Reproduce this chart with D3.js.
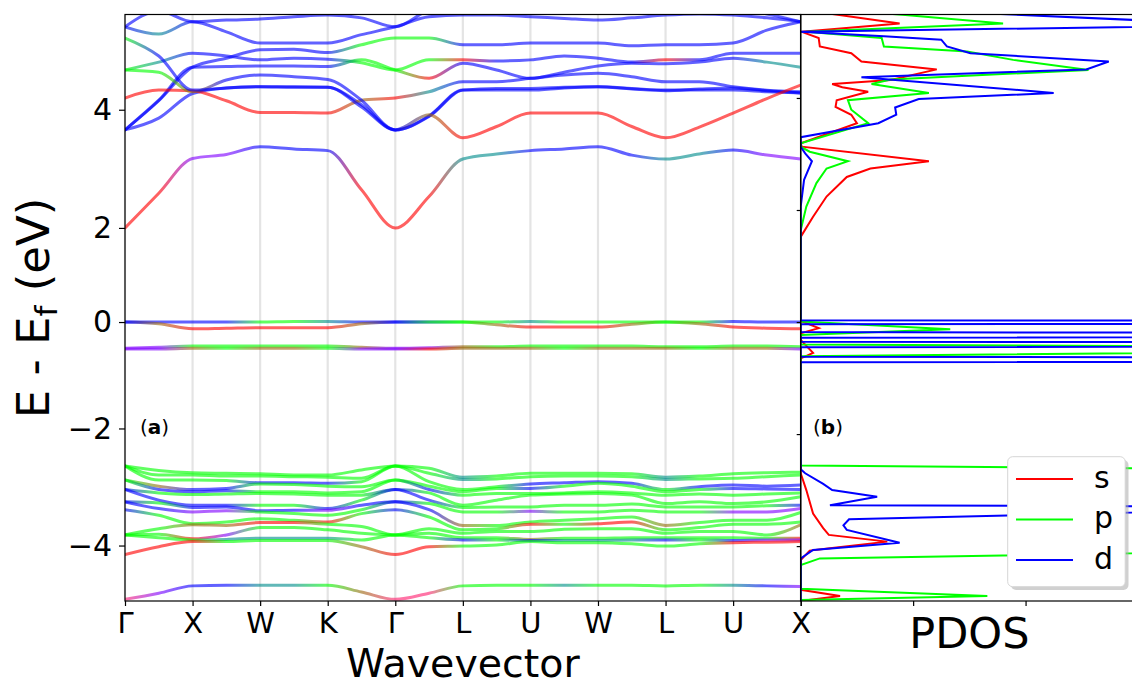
<!DOCTYPE html>
<html><head><meta charset="utf-8">
<script src="https://cdn.jsdelivr.net/npm/d3@7"></script>
<style>body{margin:0;background:#fff;overflow:hidden}svg{display:block;font-family:"DejaVu Sans",sans-serif}</style>
</head><body><svg id="chart" width="1132" height="686"></svg>
<script>
// ---------- DATA ----------
const kLabels = ["Γ","X","W","K","Γ","L","U","W","L","U","X"];
const kTicks = [0,1,2,3,4,5,6,7,8,9,10];
const kGrid = [0,0.5,1,1.5,2,2.5,3,3.5,4,4.5,5,5.5,6,6.5,7,7.5,8,8.5,9,9.5,10];
const eRange = [-4.98, 5.49];
const bandTickLabels = [-4,-2,0,2,4];
const bandTickAt = [-3.99,-1.90,0.0,1.68,3.79];
const pdosTicksE = [-4,-2,0,2,4];
const pdosTicksX = [0,1,2,3];
const pdosDomain = [0,3];

// conduction bands (eV at kGrid) and orbital colour codes
const condBands = [
  [1.68,2.30,2.92,2.99,3.13,3.09,3.06,2.36,1.68,2.24,2.91,3.00,3.06,3.09,3.13,2.98,2.91,3.00,3.07,2.98,2.91],
  [3.43,3.64,4.08,4.18,4.20,4.20,4.19,3.88,3.43,3.67,4.14,4.17,4.17,4.19,4.20,4.17,4.14,4.14,4.14,4.11,4.09],
  [3.43,3.96,4.55,4.56,4.57,4.57,4.56,4.68,4.50,4.35,4.62,4.50,4.35,4.46,4.57,4.62,4.61,4.64,4.71,4.64,4.55],
  [3.43,3.95,4.55,4.71,4.86,4.87,4.81,4.95,5.07,5.07,4.95,4.95,4.98,4.98,4.98,4.93,4.95,4.95,4.98,5.21,5.36],
  [4.00,4.14,4.13,3.95,3.74,3.74,3.73,3.96,4.00,4.11,4.29,4.29,4.35,4.41,4.44,4.38,4.29,4.29,4.20,4.14,4.11],
  [4.50,4.46,4.11,4.32,4.41,4.38,4.33,3.96,3.43,3.68,4.14,4.14,4.14,4.18,4.20,4.16,4.13,4.16,4.18,4.13,4.09],
  [4.50,4.64,4.80,4.75,4.68,4.71,4.69,4.63,4.50,4.68,4.68,4.66,4.68,4.75,4.71,4.64,4.68,4.68,4.80,4.80,4.80],
  [5.07,4.75,4.14,4.18,4.20,4.19,4.19,3.84,3.43,3.70,3.29,3.49,3.73,3.73,3.73,3.49,3.29,3.48,3.73,3.99,4.23],
  [5.27,5.14,5.36,5.18,4.98,4.98,4.98,5.13,5.27,5.45,5.48,5.48,5.45,5.42,5.39,5.43,5.48,5.50,5.48,5.43,5.36],
  [5.27,5.55,5.36,5.39,5.41,5.45,5.48,5.43,5.27,5.57,5.66,5.70,5.70,5.70,5.66,5.66,5.66,5.66,5.61,5.50,5.36]
];
const condColors = [
  "rrmmbbbrrrccbbbbccbmm",
  "bbbbbbbbbbbbbbbbbbbbb",
  "bbbbbbbggrbbbbbbbbbcc",
  "bbbbbbbgggbbbbbbbbbbb",
  "rrrrrrrorcbbbbbbbbbbb",
  "ggobbbbbbbbbbbbbbbbbb",
  "gcbbbbbgggrbbbbbrbbbb",
  "gbbbbbbbborrrrrrrrrrr",
  "bcbbbbbbbbbbbbbbbbbbb",
  "bbbbbbbbbbbbbbbbbbbbb"
];

// flat bands near the Fermi level
const flatBands = [
  [0,0,0,0,0,0.01,0.01,0,0,0,0,0,0.01,0,0,0,0,0,0.01,0,0],
  [0,-0.03,-0.12,-0.11,-0.10,-0.10,-0.10,-0.03,0,0,0,-0.05,-0.09,-0.09,-0.09,-0.04,0,-0.03,-0.09,-0.11,-0.12],
  [-0.47,-0.45,-0.43,-0.43,-0.43,-0.43,-0.43,-0.45,-0.47,-0.46,-0.44,-0.44,-0.43,-0.43,-0.43,-0.43,-0.44,-0.44,-0.43,-0.43,-0.44],
  [-0.48,-0.48,-0.47,-0.47,-0.47,-0.47,-0.47,-0.48,-0.48,-0.48,-0.47,-0.47,-0.47,-0.47,-0.47,-0.47,-0.47,-0.47,-0.47,-0.47,-0.48]
];
const flatColors = [
  "bbbbggcbbbggcgggggbbb",
  "borrrrrobggorrrogorrr",
  "mmgggggommogggggggggg",
  "mmogoogmmrooogooogoom"
];

// valence bands
const valBands = [
  [-2.57,-2.65,-2.69,-2.70,-2.71,-2.73,-2.73,-2.64,-2.57,-2.61,-2.77,-2.75,-2.70,-2.70,-2.70,-2.71,-2.77,-2.75,-2.71,-2.69,-2.68],
  [-2.57,-2.73,-2.73,-2.75,-2.75,-2.76,-2.77,-2.79,-2.57,-2.70,-2.81,-2.80,-2.76,-2.75,-2.75,-2.76,-2.81,-2.80,-2.79,-2.76,-2.73],
  [-2.57,-2.82,-2.82,-2.83,-2.87,-2.87,-2.88,-2.85,-2.57,-2.85,-2.99,-2.94,-2.89,-2.87,-2.85,-2.88,-2.99,-2.94,-2.91,-2.93,-2.91],
  [-2.82,-2.93,-2.99,-2.97,-2.89,-2.90,-2.93,-2.94,-2.82,-2.93,-3.03,-2.97,-2.97,-2.93,-2.88,-2.93,-3.03,-2.99,-2.97,-2.98,-2.99],
  [-2.82,-2.99,-3.03,-3.01,-3.03,-3.03,-3.05,-3.03,-2.82,-2.99,-3.09,-3.06,-3.06,-3.05,-3.03,-3.05,-3.09,-3.07,-3.09,-3.07,-3.05],
  [-2.99,-3.05,-3.08,-3.07,-3.06,-3.07,-3.09,-3.09,-2.99,-3.05,-3.27,-3.18,-3.09,-3.07,-3.06,-3.09,-3.24,-3.21,-3.24,-3.21,-3.12],
  [-2.99,-3.18,-3.27,-3.27,-3.27,-3.27,-3.33,-3.18,-2.99,-3.18,-3.31,-3.30,-3.30,-3.27,-3.27,-3.25,-3.30,-3.30,-3.30,-3.28,-3.27],
  [-3.21,-3.23,-3.31,-3.30,-3.37,-3.36,-3.36,-3.27,-3.21,-3.24,-3.39,-3.39,-3.38,-3.39,-3.39,-3.36,-3.39,-3.39,-3.39,-3.39,-3.33],
  [-3.21,-3.33,-3.39,-3.37,-3.39,-3.42,-3.45,-3.35,-3.21,-3.35,-3.63,-3.63,-3.57,-3.54,-3.51,-3.48,-3.63,-3.58,-3.54,-3.54,-3.40],
  [-3.35,-3.45,-3.60,-3.57,-3.51,-3.54,-3.57,-3.42,-3.35,-3.48,-3.71,-3.69,-3.61,-3.61,-3.60,-3.57,-3.71,-3.67,-3.61,-3.61,-3.57],
  [-3.80,-3.69,-3.62,-3.63,-3.58,-3.58,-3.61,-3.65,-3.80,-3.69,-3.77,-3.74,-3.74,-3.70,-3.69,-3.69,-3.77,-3.74,-3.74,-3.80,-3.62],
  [-3.80,-3.79,-3.87,-3.80,-3.67,-3.67,-3.71,-3.77,-3.80,-3.77,-3.85,-3.85,-3.88,-3.86,-3.86,-3.85,-3.85,-3.85,-3.85,-3.86,-3.86],
  [-3.80,-3.85,-3.89,-3.88,-3.86,-3.86,-3.86,-3.89,-3.80,-3.85,-3.89,-3.89,-3.90,-3.90,-3.90,-3.89,-3.89,-3.89,-3.90,-3.89,-3.89],
  [-4.15,-4.01,-3.92,-3.92,-3.90,-3.90,-3.90,-4.01,-4.15,-4.01,-4.00,-3.98,-3.92,-3.94,-3.94,-3.96,-4.00,-3.96,-3.94,-3.93,-3.92],
  [-4.95,-4.84,-4.71,-4.70,-4.70,-4.70,-4.70,-4.82,-4.95,-4.84,-4.71,-4.70,-4.70,-4.70,-4.70,-4.70,-4.71,-4.70,-4.70,-4.71,-4.72]
];
const valColors = [
  "ggggggggggcgggggcgggg",
  "ggggggggggcgggggcgggg",
  "ggggbbbgggggbbbbgbbbb",
  "gobbggggggggbgggggbbb",
  "gbbbgggggbggggggggggg",
  "bgggggggbgggggggggggg",
  "bbbbggbgbbggggggggggb",
  "bgbbbbmbbgggmgggggmmm",
  "bbmmggggbbogggggogggg",
  "bgggggrgbgggrgrrggggg",
  "ggoorrggggggggggggggo",
  "ggrmggggggggogggggggr",
  "gggccccgggbgbcccbgbmm",
  "rrrggggorrggggggggrrr",
  "nmbbccgonngggcggggcbm"
];

// projected DOS: [energy (eV), value]
const pdosS = [[5.55,0.1],[5.33,0.88],[5.18,0.01],[5.07,0.16],[4.92,0.17],[4.80,0.45],[4.65,0.54],[4.51,1.21],[4.32,0.80],[4.25,0.28],[4.19,0.37],[4.11,0.60],[3.96,0.32],[3.84,0.31],[3.70,0.45],[3.55,0.50],[3.19,0.0],[3.13,0.01],[2.87,1.14],[2.74,0.62],[2.59,0.41],[2.24,0.23],[1.88,0.11],[1.52,0.0],[0.02,0.0],[-0.11,0.16],[-0.20,0.0],[-0.32,0.0],[-0.55,0.11],[-0.65,0.0],[-2.70,0.0],[-3.00,0.05],[-3.42,0.11],[-3.68,0.20],[-3.80,0.25],[-3.92,0.77],[-4.04,0.26],[-4.08,0.08],[-4.25,0.0],[-4.78,0.0],[-4.89,0.35],[-4.98,0.0]];
const pdosP = [[5.55,0.5],[5.48,0.93],[5.33,1.80],[5.18,0.05],[5.07,0.72],[4.92,0.74],[4.83,1.48],[4.68,1.89],[4.50,2.56],[4.33,0.80],[4.25,0.63],[4.09,1.14],[3.96,0.42],[3.79,0.45],[3.55,0.60],[3.19,0.0],[3.13,0.0],[3.04,0.08],[2.87,0.42],[2.74,0.23],[2.48,0.14],[2.06,0.05],[1.64,0.0],[0.01,0.0],[-0.13,1.33],[-0.23,0.0],[-0.40,0.0],[-0.47,8.0],[-0.61,0.0],[-2.56,0.0],[-2.66,6.0],[-3.30,10.0],[-3.90,10.0],[-4.22,0.17],[-4.34,0.0],[-4.76,0.0],[-4.89,1.66],[-4.96,0.0]];
const pdosD = [[5.55,1.2],[5.30,4.0],[5.18,0.0],[5.10,0.74],[5.04,1.25],[4.92,1.30],[4.80,1.51],[4.65,2.74],[4.51,2.54],[4.37,0.54],[4.09,2.25],[3.98,1.05],[3.83,0.84],[3.70,0.85],[3.55,0.69],[3.30,0.0],[3.13,0.0],[3.01,0.04],[2.87,0.10],[2.54,0.03],[2.06,0.0],[0.03,0.0],[0.0,20],[-0.04,0.0],[-0.18,0.0],[-0.23,20],[-0.28,0.0],[-0.35,0.0],[-0.40,20],[-0.45,0.0],[-0.62,0.0],[-0.67,20],[-0.72,0.0],[-2.63,0.0],[-2.70,0.04],[-2.89,0.20],[-3.00,0.28],[-3.12,0.68],[-3.27,0.26],[-3.30,5.0],[-3.52,0.43],[-3.63,0.38],[-3.71,0.41],[-3.94,0.88],[-4.07,0.11],[-4.22,0.0],[-4.98,0.0]];
const legendLabels = ["s","p","d"];

// ---------- STYLE / LAYOUT ----------
const colorMap = {r:"#ff0000", g:"#00ff00", b:"#0000ff", m:"#8000ff", c:"#008c8c", o:"#9a6a10", n:"#ff2070"};
const pdosColors = ["#ff0000","#00ff00","#0000ff"];
const Lp = {x0:125, x1:800.7, y0:14.5, y1:601};
const Pp = {x0:800.7, x1:1138};

const svg = d3.select("#chart");
const defs = svg.append("defs");
defs.append("clipPath").attr("id","clipBand").append("rect")
  .attr("x",Lp.x0).attr("y",Lp.y0).attr("width",Lp.x1-Lp.x0).attr("height",Lp.y1-Lp.y0);
defs.append("clipPath").attr("id","clipPdos").append("rect")
  .attr("x",Pp.x0).attr("y",Lp.y0).attr("width",Pp.x1-Pp.x0).attr("height",Lp.y1-Lp.y0);

const xk = d3.scaleLinear().domain([0,10]).range([Lp.x0,Lp.x1]);
const yE = d3.scaleLinear().domain(eRange).range([Lp.y1,Lp.y0]);
const xd = d3.scaleLinear().domain(pdosDomain).range([Pp.x0,Pp.x1]);

// grid lines at high-symmetry points
svg.append("g").selectAll("line").data(kTicks).join("line")
  .attr("x1",d=>xk(d)).attr("x2",d=>xk(d)).attr("y1",Lp.y0).attr("y2",Lp.y1)
  .attr("stroke","#e4e4e4").attr("stroke-width",2.2);

// bands
const bandG = svg.append("g").attr("clip-path","url(#clipBand)");
const allBands = [];
valBands.forEach((v,i)=>allBands.push({v, c:valColors[i]}));
flatBands.forEach((v,i)=>allBands.push({v, c:flatColors[i]}));
condBands.forEach((v,i)=>allBands.push({v, c:condColors[i]}));
const bandLine = d3.line().x((d,j)=>xk(kGrid[j])).y(d=>yE(d)).curve(d3.curveMonotoneX);
allBands.forEach((b,i)=>{
  const g = defs.append("linearGradient").attr("id","bg"+i).attr("gradientUnits","userSpaceOnUse")
    .attr("x1",xk(0)).attr("x2",xk(10)).attr("y1",0).attr("y2",0);
  b.c.split("").forEach((ch,j)=>g.append("stop").attr("offset",kGrid[j]/10).attr("stop-color",colorMap[ch]));
  bandG.append("path").attr("d",bandLine(b.v)).attr("fill","none")
    .attr("stroke","url(#bg"+i+")").attr("stroke-width",3).attr("stroke-opacity",0.62)
    .attr("stroke-linecap","round");
});

// PDOS
const pdG = svg.append("g").attr("clip-path","url(#clipPdos)");
const pdLine = d3.line().x(d=>xd(d[1])).y(d=>yE(d[0]));
[pdosS,pdosP,pdosD].forEach((s,i)=>{
  pdG.append("path").attr("d",pdLine(s)).attr("fill","none")
    .attr("stroke",pdosColors[i]).attr("stroke-width",2).attr("stroke-linejoin","miter");
});

// frames
const frame = svg.append("g").attr("fill","none").attr("stroke","#000").attr("stroke-width",1.2);
frame.append("rect").attr("x",Lp.x0).attr("y",Lp.y0).attr("width",Lp.x1-Lp.x0).attr("height",Lp.y1-Lp.y0);
frame.append("rect").attr("x",Pp.x0).attr("y",Lp.y0).attr("width",Pp.x1-Pp.x0).attr("height",Lp.y1-Lp.y0);

// axes
const axL = svg.append("g").attr("transform",`translate(${Lp.x0},0)`)
  .call(d3.axisLeft(yE).tickValues(bandTickAt).tickSize(6).tickPadding(7)
    .tickFormat((d,i)=>d3.format("")(bandTickLabels[i]).replace("-","\u2212")));
const axB = svg.append("g").attr("transform",`translate(0,${Lp.y1})`)
  .call(d3.axisBottom(xk).tickValues(kTicks).tickSize(5).tickPadding(6).tickFormat((d,i)=>kLabels[i]));
const axPL = svg.append("g").attr("transform",`translate(${Pp.x0},0)`)
  .call(d3.axisLeft(yE).tickValues(pdosTicksE).tickSize(4).tickFormat(""));
const axPB = svg.append("g").attr("transform",`translate(0,${Lp.y1})`)
  .call(d3.axisBottom(xd).tickValues(pdosTicksX).tickSize(5).tickFormat(""));
[axL,axB,axPL,axPB].forEach(a=>{
  a.select(".domain").remove();
  a.selectAll(".tick line").attr("stroke","#000").attr("stroke-width",1.2);
  a.selectAll("text").attr("font-size",30).attr("font-family","DejaVu Sans").attr("fill","#000");
});
axB.selectAll("text").attr("font-size",29).attr("dy",null).attr("y",null)
  .attr("transform","translate(0,31.5)");

// axis labels
svg.append("text").attr("x",(Lp.x0+Lp.x1)/2).attr("y",676.5).attr("text-anchor","middle")
  .attr("font-size",39.5).text("Wavevector");
svg.append("text").attr("x",(Pp.x0+Pp.x1)/2).attr("y",648).attr("text-anchor","middle")
  .attr("font-size",43).text("PDOS");
const yl = svg.append("text").attr("transform","translate(49,308) rotate(-90)").attr("text-anchor","middle")
  .attr("font-size",45);
yl.append("tspan").text("E - E");
yl.append("tspan").attr("font-size",31).attr("dy",8).text("f");
yl.append("tspan").attr("dy",-8).text(" (eV)");

// panel labels
[["a",140],["b",813]].forEach(([t,x])=>{
  const tx = svg.append("text").attr("x",x).attr("y",434).attr("font-size",20);
  tx.append("tspan").text("(");
  tx.append("tspan").attr("font-weight","bold").text(t);
  tx.append("tspan").text(")");
});

// legend
const lg = svg.append("g");
lg.append("rect").attr("x",1011).attr("y",460).attr("width",117.5).attr("height",130).attr("rx",5)
  .attr("fill","#b0b0b0").attr("opacity",0.6);
lg.append("rect").attr("x",1007.7).attr("y",456.7).attr("width",117.5).attr("height",130).attr("rx",5)
  .attr("fill","#fff").attr("stroke","#d6d6d6").attr("stroke-width",1);
legendLabels.forEach((t,i)=>{
  const yy = 479 + i*40.5;
  lg.append("line").attr("x1",1016).attr("x2",1073).attr("y1",yy).attr("y2",yy)
    .attr("stroke",pdosColors[i]).attr("stroke-width",2);
  lg.append("text").attr("x",1094).attr("y",yy+8.5).attr("font-size",30).text(t);
});
</script></body></html>
